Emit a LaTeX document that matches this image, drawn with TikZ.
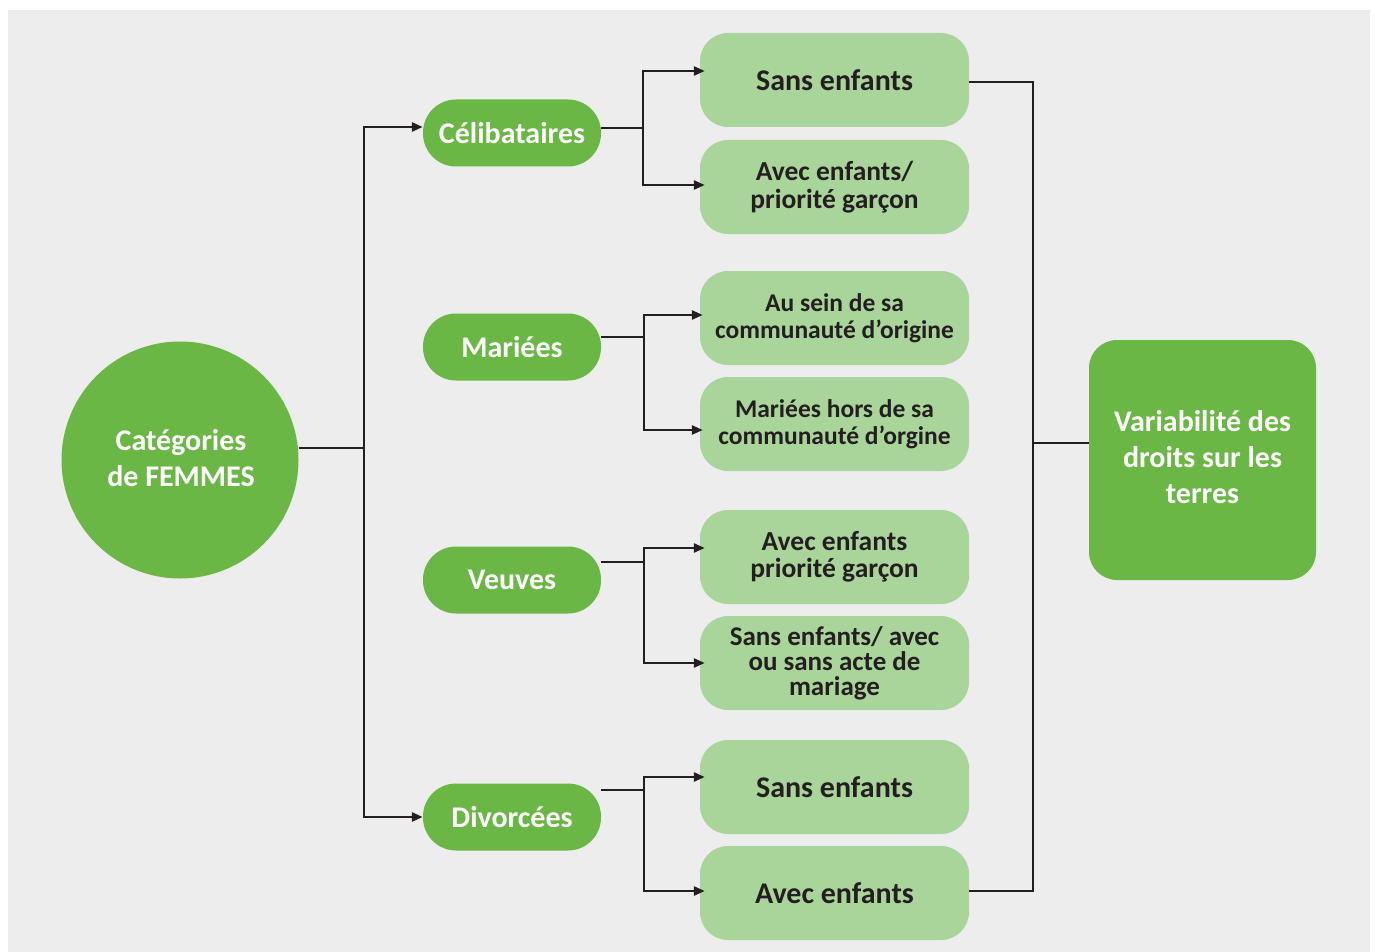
\documentclass[tikz,border=0pt]{standalone}
\usepackage{fontspec}
\setmainfont{Carlito}
\usetikzlibrary{arrows.meta}
\definecolor{bgc}{HTML}{EDEDED}
\definecolor{dgreen}{HTML}{6BB745}
\definecolor{lgreen}{HTML}{A9D59A}
\definecolor{ink}{HTML}{231F20}
\tikzset{
  pill/.style={fill=dgreen, text=white, rounded corners=33pt, minimum width=178pt, minimum height=67pt,
    font=\bfseries\fontsize{30}{34}\selectfont, align=center, inner sep=0pt},
  leaf/.style={fill=lgreen, text=ink, rounded corners=28pt, minimum width=269pt, minimum height=94pt,
    font=\bfseries\fontsize{30}{34}\selectfont, align=center, inner sep=0pt},
  leafmid/.style={leaf, font=\bfseries\fontsize{27.5}{27.5}\selectfont},
  leafsmall/.style={leaf, font=\bfseries\fontsize{25.5}{27.5}\selectfont},
  leafthree/.style={leaf, font=\bfseries\fontsize{27}{25}\selectfont},
  bigc/.style={circle, fill=dgreen, minimum size=237pt, inner sep=0pt},
  whitetxt/.style={text=white, font=\bfseries\fontsize{30}{36}\selectfont, align=center},
  endbox/.style={fill=dgreen, rounded corners=28pt, minimum width=227pt, minimum height=240pt, inner sep=0pt},
  conn/.style={draw=ink, line width=2.5pt},
  arr/.style={conn, -{Triangle[length=11pt,width=9pt]}}
}
\begin{document}
\begin{tikzpicture}[x=1pt,y=-1pt]
\useasboundingbox (0,0) rectangle (1375,952);
\fill[white] (0,0) rectangle (1375,952);
\fill[bgc] (8,10) rectangle (1370,952);

\node[bigc] (cat) at (180,460) {};
\node[whitetxt] (catt) at (181,458) {Catégories\\de FEMMES};

\node[pill] (cel) at (512,133) {Célibataires};
\node[pill] (mar) at (512,347) {Mariées};
\node[pill] (veu) at (512,580) {Veuves};
\node[pill] (div) at (512,817) {Divorcées};

\node[leaf] (c1) at (834.5,80) {Sans enfants};
\node[leafmid] (c2) at (834.5,187) {Avec enfants/\\priorité garçon};
\node[leafsmall] (m1) at (834.5,318) {Au sein de sa\\communauté d’origine};
\node[leafsmall] (m2) at (834.5,424) {Mariées hors de sa\\communauté d’orgine};
\node[leafmid] (v1) at (834.5,557) {Avec enfants\\priorité garçon};
\node[leafthree] (v2) at (834.5,663) {Sans enfants/ avec\\ou sans acte de\\mariage};
\node[leaf] (d1) at (834.5,787) {Sans enfants};
\node[leaf] (d2) at (834.5,893) {Avec enfants};

\node[endbox] (var) at (1202.5,460) {};
\node[whitetxt] (vart) at (1202.5,457) {Variabilité des\\droits sur les\\terres};

% trunk
\draw[conn] (cat.east |- 0,448) -- (364,448);
\draw[arr] (364,448) |- (cel.west |- 0,127);
\draw[arr] (364,448) |- (div.west |- 0,817);

% branches
\draw[conn] (cel.east |- 0,128) -- (643,128);
\draw[arr] (643,128) |- ([xshift=5pt]c1.west |- 0,71);
\draw[arr] (643,128) |- ([xshift=5pt]c2.west |- 0,185);

\draw[conn] (mar.east |- 0,337) -- (644,337);
\draw[arr] (644,337) |- ([xshift=3pt]m1.west |- 0,315);
\draw[arr] (644,337) |- ([xshift=3pt]m2.west |- 0,430);

\draw[conn] (veu.east |- 0,562) -- (644,562);
\draw[arr] (644,562) |- ([xshift=5pt]v1.west |- 0,548);
\draw[arr] (644,562) |- ([xshift=5pt]v2.west |- 0,663);

\draw[conn] (div.east |- 0,790) -- (644,790);
\draw[arr] (644,790) |- ([xshift=5pt]d1.west |- 0,777);
\draw[arr] (644,790) |- ([xshift=5pt]d2.west |- 0,891);

% right collector
\draw[conn] (c1.east |- 0,82) -| (1033,891) -- (d2.east |- 0,891);
\draw[conn] (1033,443) -- (var.west |- 0,443);
\coordinate (tipstart) at (1080,460);
\draw[arr, line width=0pt, draw=none, -{Triangle[length=9pt,width=9pt,fill=ink]}] (tipstart) -- (var.west |- 0,460);
\end{tikzpicture}
\end{document}
